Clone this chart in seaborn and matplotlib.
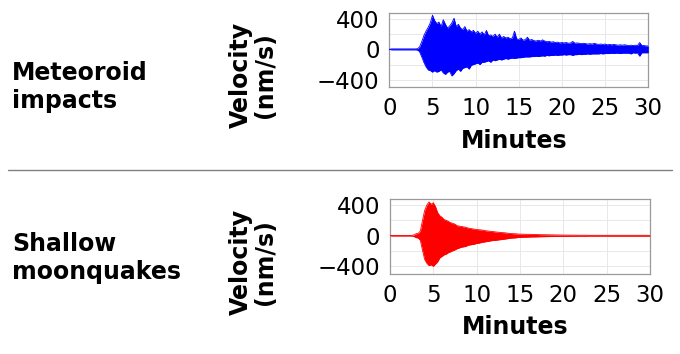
import numpy as np
import pandas as pd
import matplotlib
matplotlib.use("Agg")
import matplotlib.pyplot as plt
import seaborn as sns

# ---------------- data ----------------
minutes = np.arange(0, 30.01, 0.25)  # sample times, minutes

meteoroid_upper = [
    0, 6, 6, 6,   6, 6, 6, 6,   6, 6, 6, 6,   6, 8, 30, 100,
    180, 240, 290, 350,   450, 380, 340, 360,   300, 390, 330, 280,
    310, 350, 410, 300,   330, 280, 260, 300,   240, 260, 230, 250,
    210, 240, 200, 230,   190, 250, 180, 190,   170, 200, 160, 200,
    150, 170, 150, 160,   140, 150, 240, 140,   130, 150, 120, 130,
    160, 120, 130, 115,   110, 120, 110, 125,   110, 100, 105, 95,
    100, 90, 95, 85,   90, 85, 90, 80,   85, 105, 80, 85,
    80, 75, 80, 75,   70, 75, 70, 80,   70, 65, 70, 65,
    70, 60, 65, 60,   65, 60, 55, 60,   55, 60, 55, 50,
    55, 50, 55, 50,   90, 50, 50, 45,   45,
]
meteoroid_lower = [
    0, -6, -6, -6,   -6, -6, -6, -6,   -6, -6, -6, -6,   -6, -8, -30, -97,
    -170, -230, -270, -280,   -300, -280, -300, -290,   -270, -310, -330, -300,
    -290, -350, -320, -280,   -260, -290, -250, -240,   -230, -260, -210, -200,
    -190, -180, -200, -170,   -170, -160, -150, -170,   -140, -150, -140, -130,
    -140, -130, -120, -130,   -120, -115, -120, -115,   -110, -110, -105, -100,
    -100, -100, -95, -95,   -90, -95, -90, -85,   -90, -80, -85, -80,
    -80, -75, -80, -75,   -75, -70, -75, -70,   -70, -80, -70, -70,
    -65, -70, -65, -65,   -60, -65, -60, -60,   -60, -60, -55, -60,
    -55, -55, -55, -50,   -55, -50, -50, -55,   -50, -50, -50, -50,
    -60, -45, -50, -45,   -90, -45, -45, -45,   -45,
]
moonquake_upper = [
    0, 3, 3, 3,   3, 3, 3, 3,   3, 3, 3, 10,   25, 30, 60, 200,
    330, 400, 440, 410,   430, 380, 300, 260,   240, 210, 200, 185,
    170, 160, 150, 130,   125, 120, 115, 110,   100, 95, 90, 85,
    80, 78, 75, 72,   65, 62, 58, 55,   52, 48, 45, 42,
    40, 38, 34, 30,   28, 26, 25, 22,   20, 20, 19, 18,
    18, 17, 16, 16,   15, 14, 13, 13,   12, 12, 11, 11,
    10, 10, 9, 9,   8, 8, 8, 7,   7, 7, 7, 6,
    6, 6, 6, 6,   5, 5, 5, 5,   5, 5, 5, 5,
    5, 5, 5, 5,   5, 5, 5, 5,   5, 5, 5, 5,
    5, 5, 5, 5,   5, 5, 5, 5,   5,
]
moonquake_lower = [
    0, -3, -3, -3,   -3, -3, -3, -3,   -3, -3, -3, -10,   -25, -30, -60, -190,
    -310, -360, -390, -380,   -400, -370, -340, -290,   -270, -250, -240, -220,
    -210, -195, -185, -170,   -160, -150, -145, -140,   -125, -120, -115, -110,
    -100, -98, -90, -85,   -80, -75, -70, -65,   -62, -60, -55, -52,
    -48, -44, -40, -35,   -32, -30, -28, -24,   -22, -21, -20, -19,
    -18, -17, -16, -16,   -15, -14, -13, -13,   -12, -12, -11, -11,
    -10, -10, -9, -9,   -8, -8, -8, -7,   -7, -7, -7, -6,
    -6, -6, -6, -6,   -5, -5, -5, -5,   -5, -5, -5, -5,
    -5, -5, -5, -5,   -5, -5, -5, -5,   -5, -5, -5, -5,
    -5, -5, -5, -5,   -5, -5, -5, -5,   -5,
]

row_labels = ["Meteoroid\nimpacts", "Shallow\nmoonquakes"]
y_label = "Velocity\n(nm/s)"
x_label = "Minutes"
x_ticks = [0, 5, 10, 15, 20, 25, 30]
y_ticks = [-400, 0, 400]
y_grid = [-200, 200]
colors = ["#0000ff", "#ff0000"]

# ---------------- style ----------------
sns.set_theme(style="white")
plt.rcParams["font.family"] = ["DejaVu Sans"]
plt.rcParams["axes.unicode_minus"] = True
plt.rcParams["text.color"] = "black"
plt.rcParams["axes.labelcolor"] = "black"

fig = plt.figure(figsize=(6.8, 3.54), dpi=100)
W, H = 680, 354

# axes boxes in pixels: left, top, right, bottom
boxes = [(389.3, 13.3, 648.3, 87.3), (390.0, 199.3, 650.0, 274.0)]
series = [(meteoroid_upper, meteoroid_lower), (moonquake_upper, moonquake_lower)]
label_centers = [87, 258]
ylabel_centers = [75, 262]

for i in range(2):
    l, t, r, b = boxes[i]
    ax = fig.add_axes([l / W, 1 - b / H, (r - l) / W, (b - t) / H])
    up, lo = series[i]
    df = pd.DataFrame({"minutes": minutes, "upper": up, "lower": lo})
    ax.fill_between(df["minutes"], df["lower"], df["upper"], color=colors[i],
                    linewidth=0, zorder=3)
    sns.lineplot(data=df, x="minutes", y="upper", ax=ax, color=colors[i],
                 linewidth=0.6, zorder=3)
    sns.lineplot(data=df, x="minutes", y="lower", ax=ax, color=colors[i],
                 linewidth=0.6, zorder=3)

    ax.set_xlim(0, 30)
    ax.set_ylim(-500, 475)
    ax.set_xticks(x_ticks)
    ax.set_yticks(y_ticks)
    ax.set_yticks(y_grid, minor=True)
    ax.grid(True, which="both", color="#e8e8e8", linewidth=0.7, zorder=0)
    ax.set_axisbelow(True)
    for s in ax.spines.values():
        s.set_color("#9a9a9a")
        s.set_linewidth(0.9)
    ax.tick_params(axis="both", which="major", direction="out", length=5,
                   width=0.9, color="#8a8a8a", labelsize=16.5, labelcolor="black",
                   pad=2)
    ax.tick_params(axis="y", which="minor", length=0)
    ax.set_xlabel(x_label, fontsize=17, fontweight="bold", labelpad=5,
                  color="black")
    ax.xaxis.set_label_coords(0.481, -0.56 if i == 0 else -0.55)
    ax.set_ylabel("")

    fig.text(12 / W, 1 - label_centers[i] / H, row_labels[i], ha="left",
             va="center", fontsize=17, fontweight="bold", linespacing=1.25,
             color="black")
    fig.text(253 / W, 1 - ylabel_centers[i] / H, y_label, ha="center",
             va="center", rotation=90, fontsize=17, fontweight="bold",
             linespacing=1.0, color="black")

# separator line
fig.add_artist(plt.Line2D([8 / W, 672 / W], [1 - 170 / H, 1 - 170 / H],
                          color="#808080", linewidth=1.0))

fig.savefig("out.png", dpi=100)
